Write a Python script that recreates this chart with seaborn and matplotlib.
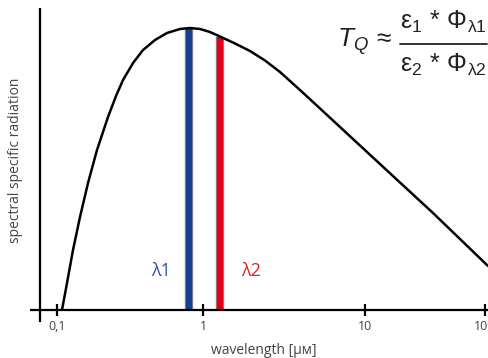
import numpy as np
import matplotlib
matplotlib.use("Agg")
import matplotlib.pyplot as plt
import matplotlib.patheffects as pe
import seaborn as sns

# Spectral radiation curve (arbitrary units) over wavelength in µm
wavelength = [0.1082, 0.1171, 0.1287, 0.1437, 0.1631, 0.1879, 0.2235, 0.2536,
              0.2832, 0.3317, 0.3882, 0.4690, 0.5667, 0.6958, 0.8146, 0.9538,
              1.1046, 1.2915, 1.5762, 1.9508, 2.4143, 2.9879, 3.9697, 5.2776,
              7.0128, 10.391, 19.568, 36.869, 61.90, 105.93]
radiation = [0.00, 0.27, 0.60, 0.93, 1.27, 1.60, 1.93, 2.14,
             2.30, 2.47, 2.60, 2.70, 2.77, 2.81, 2.82, 2.81,
             2.78, 2.73, 2.665, 2.59, 2.495, 2.38, 2.20, 2.015,
             1.83, 1.58, 1.275, 0.97, 0.71, 0.44]

# The two measurement wavelengths of the ratio pyrometer
band_names = ["λ1", "λ2"]
band_wavelength = [0.796, 1.28]
band_radiation = [2.82, 2.73]
band_colors = ["#1b3f93", "#e0001b"]
band_text_colors = ["#2b55aa", "#e5202b"]

tick_values = [0.1, 1, 10, 100]
tick_labels = ["0,1", "1", "10", "100"]

sns.set_theme(style="white")
plt.rcParams["font.family"] = ["Open Sans", "DejaVu Sans"]
plt.rcParams["mathtext.fontset"] = "custom"
plt.rcParams["mathtext.rm"] = "Liberation Sans"
plt.rcParams["mathtext.it"] = "Liberation Sans:italic"

W, H = 488, 358
fig = plt.figure(figsize=(W / 100, H / 100), dpi=100)
ax = fig.add_axes([40 / W, 48 / H, 448 / W, 302 / H])

# Log-like wavelength axis with slightly uneven decades
K = np.array([-1.0, 0.0, 1.0, 2.0])
P = np.array([57.0, 203.0, 365.0, 485.0])


def _fwd(x):
    l = np.log10(np.clip(np.asarray(x, float), 1e-12, None))
    out = np.interp(l, K, P)
    out = np.where(l < K[0], P[0] + (l - K[0]) * (P[1] - P[0]), out)
    out = np.where(l > K[-1], P[-1] + (l - K[-1]) * (P[-1] - P[-2]), out)
    return out


def _inv(p):
    p = np.asarray(p, float)
    l = np.interp(p, P, K)
    l = np.where(p < P[0], K[0] + (p - P[0]) / (P[1] - P[0]), l)
    l = np.where(p > P[-1], K[-1] + (p - P[-1]) / (P[-1] - P[-2]), l)
    return 10 ** l


ax.set_xscale("function", functions=(_fwd, _inv))

# Bands under the curve
for x, h, c in zip(band_wavelength, band_radiation, band_colors):
    ax.vlines(x, 0, h, colors=c, linewidth=4.6, capstyle="butt", zorder=2,
              path_effects=[pe.Stroke(linewidth=6.0, foreground="#8c8c8c"),
                            pe.Normal()])

sns.lineplot(x=wavelength, y=radiation, ax=ax, color="black",
             linewidth=1.8, zorder=3)
for ln in ax.get_lines():
    ln.set_solid_joinstyle("round")

for name, x, c in zip(band_names, [0.516, 1.98], band_text_colors):
    ax.text(x, 0.39, name, color=c, fontsize=13, ha="center", va="center")

ax.set_xlim(float(_inv(40)), float(_inv(488)))
ax.set_ylim(0, 3.02)

for s in ax.spines.values():
    s.set_visible(False)

# Axis lines that cross at the origin
ax.plot([0, 0], [-12 / 302, 1], transform=ax.transAxes, color="black",
        linewidth=1.6, clip_on=False, solid_capstyle="butt")
ax.plot([-10 / 448, 1], [0, 0], transform=ax.transAxes, color="black",
        linewidth=1.6, clip_on=False, solid_capstyle="butt")

ax.set_xticks(tick_values)
ax.set_xticklabels(tick_labels)
ax.xaxis.set_minor_locator(matplotlib.ticker.NullLocator())
ax.tick_params(axis="x", direction="inout", length=9, width=1.6,
               color="black", labelsize=9, labelcolor="#444444", pad=3,
               bottom=True)
ax.set_yticks([])

ax.set_xlabel("wavelength [μм]", fontsize=10, color="#444444", labelpad=7)
fig.text(16 / W, 1 - 160 / H, "spectral specific radiation", rotation=90,
         fontsize=10, color="#444444", ha="center", va="center")

# Ratio formula
fig.text(337 / W, 1 - 42 / H, r"$T_Q\,\approx$", fontsize=19,
         ha="left", va="center", color="#222222")
fig.text(443 / W, 1 - 22 / H,
         r"$\mathrm{ε}_1\,*\,\mathrm{Φ}_{\mathrm{λ}1}$",
         fontsize=18, ha="center", va="center", color="#222222")
fig.text(443 / W, 1 - 65 / H,
         r"$\mathrm{ε}_2\,*\,\mathrm{Φ}_{\mathrm{λ}2}$",
         fontsize=18, ha="center", va="center", color="#222222")
fig.add_artist(matplotlib.lines.Line2D([400 / W, 487 / W],
                                       [1 - 44 / H, 1 - 44 / H],
                                       color="#222222", linewidth=1.3))

fig.savefig("out.png", dpi=100)
